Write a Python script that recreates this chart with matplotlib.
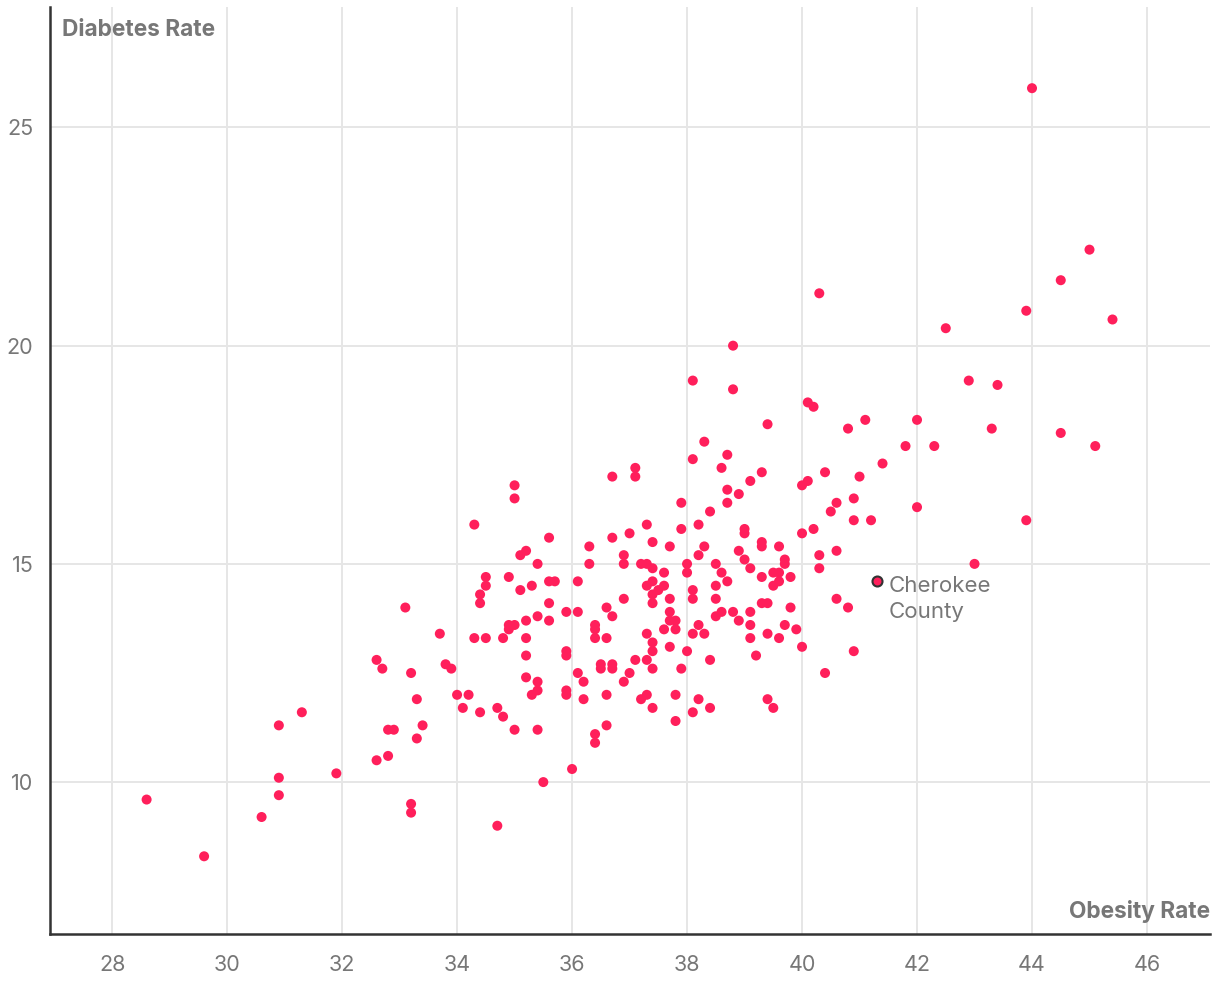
import matplotlib
matplotlib.use("Agg")
import matplotlib.pyplot as plt

plt.rcParams['font.family'] = ['Inter', 'DejaVu Sans']

# obesity rate (x) / diabetes rate (y), one county per point
obesity = [
    28.6, 29.6, 30.6, 30.9, 30.9, 30.9, 31.3, 31.9, 32.6, 32.7, 32.6, 32.8, 32.8, 32.9,
    33.1, 33.2, 33.2, 33.2, 33.3, 33.3, 33.4, 33.7, 33.8, 33.9, 34.0, 34.1, 34.2, 34.3,
    34.3, 34.4, 34.4, 34.4, 34.5, 34.5, 34.5, 34.7, 34.7, 34.8, 34.8, 34.9, 34.9, 34.9,
    35.0, 35.0, 35.0, 35.0, 35.1, 35.1, 35.2, 35.2, 35.2, 35.2, 35.2, 35.3, 35.3, 35.4,
    35.4, 35.4, 35.4, 35.4, 35.5, 35.6, 35.6, 35.6, 35.6, 35.7, 35.9, 35.9, 35.9, 35.9,
    35.9, 36.0, 36.1, 36.1, 36.1, 36.2, 36.2, 36.3, 36.3, 36.4, 36.4, 36.4, 36.4, 36.4,
    36.5, 36.5, 36.6, 36.6, 36.6, 36.6, 36.7, 36.7, 36.7, 36.7, 36.7, 36.9, 36.9, 36.9,
    36.9, 37.0, 37.0, 37.1, 37.1, 37.1, 37.2, 37.2, 37.3, 37.3, 37.3, 37.3, 37.3, 37.3,
    37.4, 37.4, 37.4, 37.4, 37.4, 37.4, 37.4, 37.4, 37.4, 37.5, 37.6, 37.6, 37.6, 37.7,
    37.7, 37.7, 37.7, 37.7, 37.8, 37.8, 37.8, 37.8, 37.9, 37.9, 37.9, 38.0, 38.0, 38.0,
    38.1, 38.1, 38.1, 38.1, 38.1, 38.1, 38.2, 38.2, 38.2, 38.2, 38.3, 38.3, 38.3, 38.4,
    38.4, 38.4, 38.5, 38.5, 38.5, 38.5, 38.6, 38.6, 38.6, 38.7, 38.7, 38.7, 38.7, 38.8,
    38.8, 38.8, 38.9, 38.9, 38.9, 39.0, 39.0, 39.0, 39.1, 39.1, 39.1, 39.1, 39.1, 39.2,
    39.3, 39.3, 39.3, 39.3, 39.3, 39.4, 39.4, 39.4, 39.4, 39.5, 39.5, 39.5, 39.6, 39.6,
    39.6, 39.6, 39.7, 39.7, 39.7, 39.8, 39.8, 39.9, 40.0, 40.0, 40.0, 40.1, 40.1, 40.2,
    40.2, 40.3, 40.3, 40.3, 40.4, 40.4, 40.5, 40.6, 40.6, 40.6, 40.8, 40.8, 40.9, 40.9,
    40.9, 41.0, 41.1, 41.2, 41.4, 41.8, 42.0, 42.0, 42.3, 42.5, 42.9, 43.0, 43.3, 43.4,
    43.9, 43.9, 44.0, 44.5, 44.5, 45.0, 45.1, 45.4,
]
diabetes = [
    9.6, 8.3, 9.2, 11.3, 10.1, 9.7, 11.6, 10.2, 12.8, 12.6, 10.5, 10.6, 11.2, 11.2,
    14.0, 12.5, 9.5, 9.3, 11.9, 11.0, 11.3, 13.4, 12.7, 12.6, 12.0, 11.7, 12.0, 15.9,
    13.3, 14.3, 14.1, 11.6, 14.7, 14.5, 13.3, 11.7, 9.0, 13.3, 11.5, 14.7, 13.6, 13.5,
    13.6, 16.8, 16.5, 11.2, 15.2, 14.4, 15.3, 13.7, 13.3, 12.9, 12.4, 14.5, 12.0, 15.0,
    13.8, 12.3, 12.1, 11.2, 10.0, 15.6, 14.6, 14.1, 13.7, 14.6, 13.9, 13.0, 12.9, 12.1,
    12.0, 10.3, 14.6, 13.9, 12.5, 12.3, 11.9, 15.4, 15.0, 13.6, 13.5, 13.3, 11.1, 10.9,
    12.7, 12.6, 14.0, 13.3, 12.0, 11.3, 17.0, 15.6, 13.8, 12.7, 12.6, 15.2, 15.0, 14.2,
    12.3, 15.7, 12.5, 17.2, 17.0, 12.8, 15.0, 11.9, 15.9, 15.0, 14.5, 13.4, 12.8, 12.0,
    15.5, 14.9, 14.6, 14.3, 14.1, 13.2, 13.0, 12.6, 11.7, 14.4, 14.8, 14.5, 13.5, 15.4,
    14.2, 13.9, 13.7, 13.1, 13.7, 13.5, 12.0, 11.4, 16.4, 15.8, 12.6, 15.0, 14.8, 13.0,
    19.2, 17.4, 14.4, 14.2, 13.4, 11.6, 15.9, 15.2, 13.6, 11.9, 17.8, 15.4, 13.4, 16.2,
    12.8, 11.7, 15.0, 14.5, 14.2, 13.8, 17.2, 14.8, 13.9, 17.5, 16.7, 16.4, 14.6, 20.0,
    19.0, 13.9, 16.6, 15.3, 13.7, 15.8, 15.7, 15.1, 16.9, 14.9, 13.9, 13.6, 13.3, 12.9,
    17.1, 15.5, 15.4, 14.7, 14.1, 18.2, 14.1, 13.4, 11.9, 14.8, 14.5, 11.7, 15.4, 14.8,
    14.6, 13.3, 15.1, 15.0, 13.6, 14.7, 14.0, 13.5, 16.8, 15.7, 13.1, 18.7, 16.9, 18.6,
    15.8, 21.2, 15.2, 14.9, 17.1, 12.5, 16.2, 16.4, 15.3, 14.2, 18.1, 14.0, 16.5, 16.0,
    13.0, 17.0, 18.3, 16.0, 17.3, 17.7, 18.3, 16.3, 17.7, 20.4, 19.2, 15.0, 18.1, 19.1,
    20.8, 16.0, 25.9, 21.5, 18.0, 22.2, 17.7, 20.6,
]

highlight_name = "Cherokee\nCounty"
highlight_x = 41.3
highlight_y = 14.6

x_ticks = [28, 30, 32, 34, 36, 38, 40, 42, 44, 46]
y_ticks = [10, 15, 20, 25]

pink = '#ff1f5b'
gray = '#777777'

fig = plt.figure(figsize=(12.2, 10.06), dpi=100)
ax = fig.add_axes([0.041, 0.0716, 0.951, 0.921])

ax.scatter(obesity, diabetes, s=52, color=pink, edgecolors='none', zorder=3)
ax.scatter([highlight_x], [highlight_y], s=52, color=pink, edgecolors='#333333',
           linewidths=1.5, zorder=4)
ax.text(highlight_x + 0.2, highlight_y + 0.13, highlight_name, color=gray, fontsize=16,
        va='top', ha='left', linespacing=1.38)

ax.set_xlim(26.92, 47.1)
ax.set_ylim(6.52, 27.75)
ax.set_xticks(x_ticks)
ax.set_yticks(y_ticks)
ax.grid(True, color='#e6e6e6', lw=1.4, zorder=0)
ax.set_axisbelow(True)
ax.tick_params(length=0, labelsize=15.5, labelcolor=gray)
ax.tick_params(axis='x', pad=15)
ax.tick_params(axis='y', pad=12)

for s in ['top', 'right']:
    ax.spines[s].set_visible(False)
for s in ['left', 'bottom']:
    ax.spines[s].set_color('#333333')
    ax.spines[s].set_linewidth(1.8)

ax.text(0.01, 0.988, "Diabetes Rate", transform=ax.transAxes, ha='left', va='top',
        fontsize=16.3, fontweight='bold', color=gray)
ax.text(1.0, 0.012, "Obesity Rate", transform=ax.transAxes, ha='right', va='bottom',
        fontsize=16.3, fontweight='bold', color=gray)

fig.savefig("out.png", dpi=100)
